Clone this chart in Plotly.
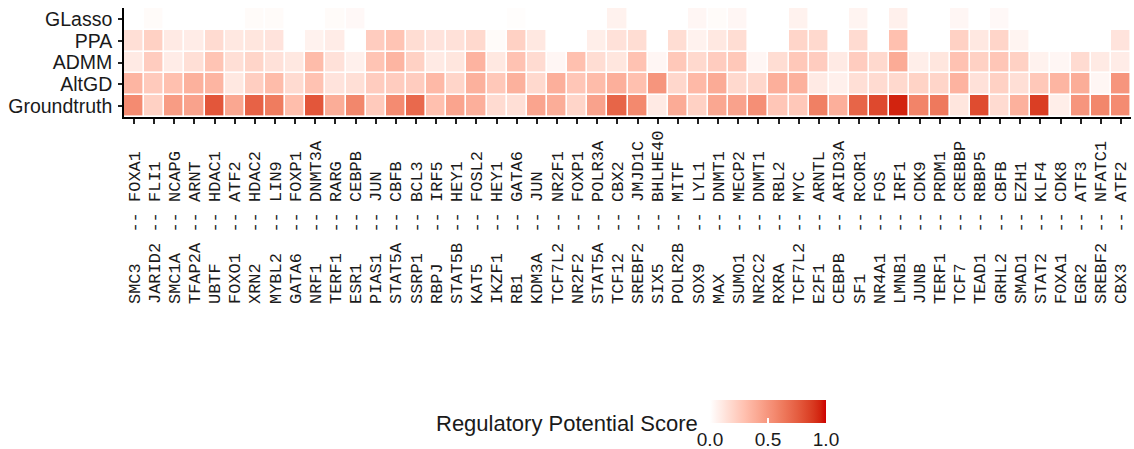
import plotly.graph_objects as go
import numpy as np

# ---------------- data ----------------
left_genes = ["SMC3", "JARID2", "SMC1A", "TFAP2A", "UBTF", "FOXO1", "XRN2", "MYBL2", "GATA6", "NRF1",
              "TERF1", "ESR1", "PIAS1", "STAT5A", "SSRP1", "RBPJ", "STAT5B", "KAT5", "IKZF1", "RB1",
              "KDM3A", "TCF7L2", "NR2F2", "STAT5A", "TCF12", "SREBF2", "SIX5", "POLR2B", "SOX9", "MAX",
              "SUMO1", "NR2C2", "RXRA", "TCF7L2", "E2F1", "CEBPB", "SF1", "NR4A1", "LMNB1", "JUNB",
              "TERF1", "TCF7", "TEAD1", "GRHL2", "SMAD1", "STAT2", "FOXA1", "EGR2", "SREBF2", "CBX3"]
right_genes = ["FOXA1", "FLI1", "NCAPG", "ARNT", "HDAC1", "ATF2", "HDAC2", "LIN9", "FOXP1", "DNMT3A",
               "RARG", "CEBPB", "JUN", "CBFB", "BCL3", "IRF5", "HEY1", "FOSL2", "HEY1", "GATA6",
               "JUN", "NR2F1", "FOXP1", "POLR3A", "CBX2", "JMJD1C", "BHLHE40", "MITF", "LYL1", "DNMT1",
               "MECP2", "DNMT1", "RBL2", "MYC", "ARNTL", "ARID3A", "RCOR1", "FOS", "IRF1", "CDK9",
               "PRDM1", "CREBBP", "RBBP5", "CBFB", "EZH1", "KLF4", "CDK8", "ATF3", "NFATC1", "ATF2"]

methods = ["Groundtruth", "AltGD", "ADMM", "PPA", "GLasso"]

glasso = [0, 0.02, 0, 0, 0, 0, 0.02, 0.02, 0, 0,
          0.02, 0.03, 0, 0, 0, 0, 0, 0, 0, 0.01,
          0, 0, 0, 0, 0.06, 0, 0, 0, 0.04, 0.02,
          0.04, 0, 0, 0.06, 0, 0, 0.05, 0, 0.07, 0,
          0, 0.04, 0, 0.03, 0, 0, 0, 0, 0, 0]
ppa = [0.15, 0.22, 0.10, 0.09, 0.17, 0.11, 0.12, 0.13, 0, 0.06,
       0.09, 0, 0.24, 0.28, 0.16, 0.13, 0.14, 0.18, 0.02, 0.22,
       0.11, 0, 0, 0.08, 0.14, 0.16, 0, 0.16, 0.06, 0.11,
       0.16, 0, 0, 0.20, 0.18, 0, 0.17, 0, 0.30, 0,
       0, 0.22, 0.11, 0.20, 0.05, 0, 0, 0, 0, 0.13]
admm = [0.10, 0.24, 0.09, 0.15, 0.28, 0.15, 0.20, 0.14, 0.11, 0.32,
        0.14, 0.07, 0.28, 0.35, 0.22, 0.10, 0.12, 0.36, 0.11, 0.29,
        0.17, 0.04, 0.30, 0.16, 0.12, 0.29, 0.04, 0.26, 0.18, 0.24,
        0.26, 0.04, 0.16, 0.26, 0.24, 0.10, 0.24, 0.18, 0.40, 0.08,
        0.12, 0.29, 0.22, 0.27, 0.22, 0.06, 0.04, 0.17, 0.10, 0.09]
altgd = [0.35, 0.25, 0.30, 0.37, 0.35, 0.11, 0.23, 0.32, 0.17, 0.29,
         0.13, 0.15, 0.24, 0.24, 0.24, 0.33, 0.20, 0.37, 0.26, 0.37,
         0.18, 0.38, 0.27, 0.32, 0.38, 0.30, 0.50, 0.19, 0.33, 0.40,
         0.18, 0.19, 0.38, 0.37, 0.10, 0.07, 0.15, 0.17, 0.18, 0.21,
         0.20, 0.36, 0.14, 0.22, 0.15, 0.26, 0.35, 0.39, 0.04, 0.50]
groundtruth = [0.55, 0.22, 0.47, 0.44, 0.78, 0.42, 0.73, 0.62, 0.31, 0.78,
               0.39, 0.57, 0.25, 0.55, 0.70, 0.30, 0.43, 0.38, 0.17, 0.15,
               0.43, 0.39, 0.20, 0.44, 0.72, 0.56, 0.10, 0.40, 0.22, 0.42,
               0.44, 0.53, 0.27, 0.26, 0.60, 0.38, 0.72, 0.83, 0.95, 0.58,
               0.63, 0.12, 0.82, 0.17, 0.37, 0.87, 0.08, 0.50, 0.57, 0.55]

cbar_ticks = [0.0, 0.5, 1.0]
cbar_ticktext = ["0.0", "0.5", "1.0"]

# ---------------- colour scale (white -> red3, Lab interpolation) ----------------
def _srgb_to_lab(rgb):
    c = np.array(rgb) / 255.0
    c = np.where(c <= 0.04045, c / 12.92, ((c + 0.055) / 1.055) ** 2.4)
    M = np.array([[0.4124, 0.3576, 0.1805], [0.2126, 0.7152, 0.0722], [0.0193, 0.1192, 0.9505]])
    xyz = M @ c / np.array([0.95047, 1.0, 1.08883])
    f = np.where(xyz > 0.008856, np.cbrt(xyz), 7.787 * xyz + 16 / 116)
    return np.array([116 * f[1] - 16, 500 * (f[0] - f[1]), 200 * (f[1] - f[2])])

def _lab_to_srgb(lab):
    L, a, b = lab
    fy = (L + 16) / 116
    fx = fy + a / 500
    fz = fy - b / 200
    f = np.array([fx, fy, fz])
    xyz = np.where(f ** 3 > 0.008856, f ** 3, (f - 16 / 116) / 7.787) * np.array([0.95047, 1.0, 1.08883])
    Mi = np.array([[3.2406, -1.5372, -0.4986], [-0.9689, 1.8758, 0.0415], [0.0557, -0.2040, 1.0570]])
    c = Mi @ xyz
    c = np.clip(c, 0, 1)
    c = np.where(c <= 0.0031308, 12.92 * c, 1.055 * c ** (1 / 2.4) - 0.055)
    return tuple(int(round(v * 255)) for v in np.clip(c, 0, 1))

lo = _srgb_to_lab((255, 255, 255))
hi = _srgb_to_lab((205, 0, 0))
colorscale = []
for t in np.linspace(0, 1, 21):
    r, g, b = _lab_to_srgb(lo + (hi - lo) * t)
    colorscale.append([float(t), f"rgb({r},{g},{b})"])

# ---------------- labels ----------------
NB = "\u00a0"
def pad(s, n):
    return s + NB * (n - len(s))

xlabels = [pad(l, 6) + NB + "--" + NB + pad(r, 7) for l, r in zip(left_genes, right_genes)]
xs = list(range(len(xlabels)))

z = [groundtruth, altgd, admm, ppa, glasso]

W, H = 1134, 449
PL, PR = 124, 1131
fig = go.Figure(go.Heatmap(
    z=z, x=xs, y=methods,
    zmin=0, zmax=1,
    colorscale=colorscale,
    xgap=1.6, ygap=1.6,
    colorbar=dict(
        orientation="h",
        xref="paper", yref="container",
        x=(710 - PL) / (PR - PL), xanchor="left",
        y=1 - 400 / H, yanchor="top",
        len=116, lenmode="pixels",
        thickness=23, thicknessmode="pixels",
        xpad=0, ypad=0,
        outlinewidth=0,
        tickvals=cbar_ticks, ticktext=cbar_ticktext,
        ticks="inside", tickcolor="white", ticklen=5, tickwidth=1.5,
        tickfont=dict(family="Liberation Sans, Arial", size=19, color="#1a1a1a"),
    ),
))

fig.update_layout(
    width=W, height=H,
    margin=dict(l=PL, r=W - PR, t=8, b=332),
    plot_bgcolor="white", paper_bgcolor="white",
    showlegend=False,
    annotations=[dict(
        text="Regulatory Potential Score", showarrow=False,
        xref="paper", yref="paper",
        x=(700 - PL) / (PR - PL), xanchor="right",
        y=(117 - 423) / 109, yanchor="middle",
        font=dict(family="Liberation Sans, Arial", size=22, color="#1a1a1a"),
    )],
)

fig.update_xaxes(
    tickmode="array", tickvals=xs, ticktext=xlabels,
    tickangle=-90,
    tickfont=dict(family="Liberation Mono, Courier New, monospace", size=17, color="#1a1a1a"),
    ticks="outside", ticklen=5, tickwidth=1.5, tickcolor="#222",
    ticklabelstandoff=0,
    showline=True, linecolor="black", linewidth=1.6,
    showgrid=False, zeroline=False,
    range=[-0.5, len(xs) - 0.5],
    automargin=False,
)
fig.update_yaxes(
    tickmode="array", tickvals=methods, ticktext=methods,
    tickfont=dict(family="Liberation Sans, Arial", size=19.5, color="#1a1a1a"),
    ticks="outside", ticklen=4, tickwidth=1.5, tickcolor="#222",
    ticklabelstandoff=2,
    showline=True, linecolor="black", linewidth=1.6,
    showgrid=False, zeroline=False,
    automargin=False,
)

fig.write_html("out.html", config={"displayModeBar": False},
               post_script="document.body.style.margin='0px';")
